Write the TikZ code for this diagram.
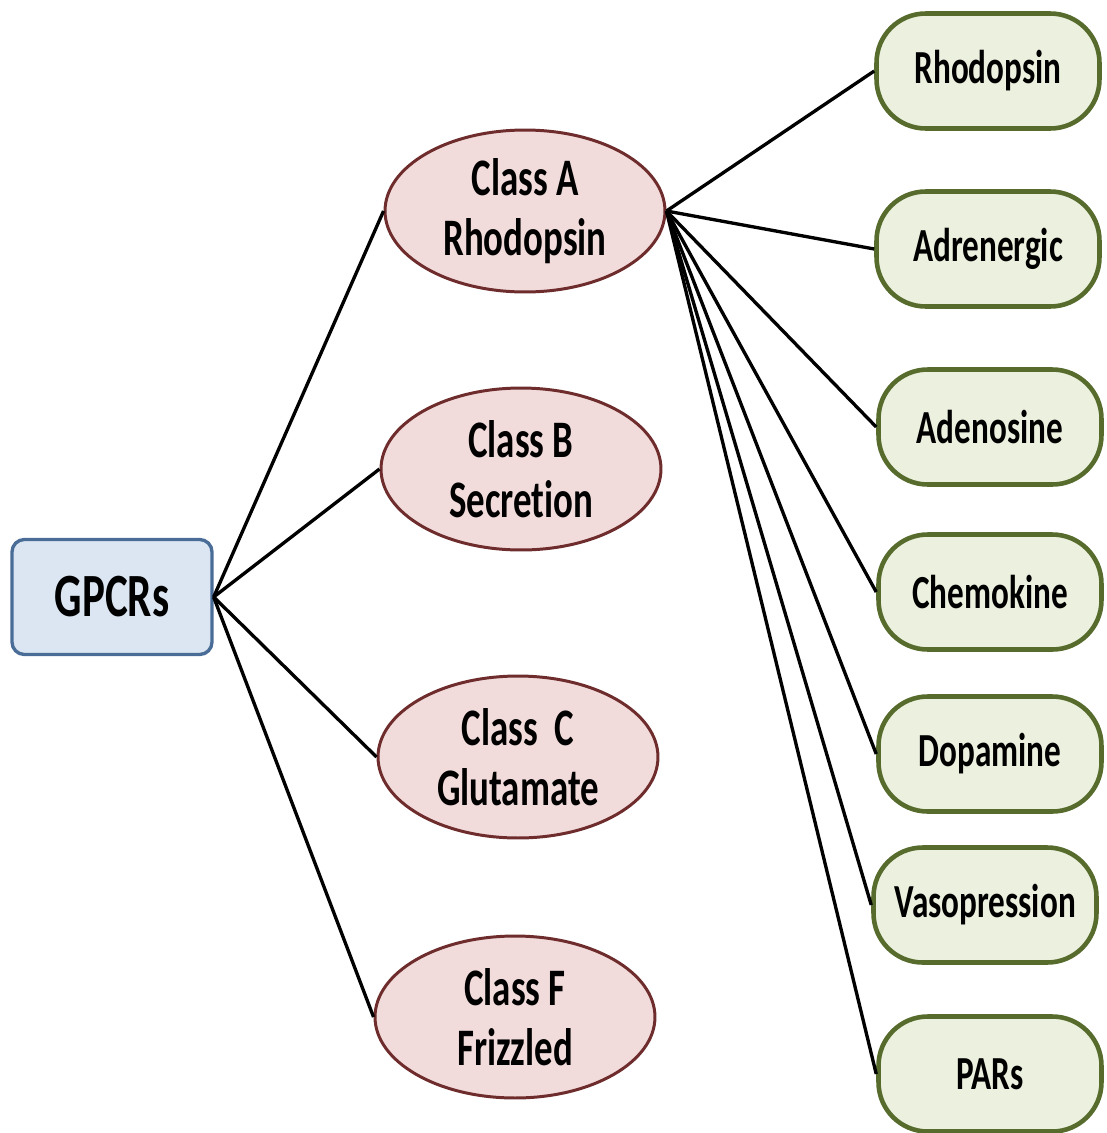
\documentclass[tikz,border=0pt]{standalone}
\usepackage{fontspec}
\setmainfont{Carlito}[FakeStretch=0.7, Ligatures={NoCommon,NoContextual,NoRare}]
\usetikzlibrary{shapes.geometric}
\usetikzlibrary{positioning}

\definecolor{racinefond}{HTML}{DCE6F2}
\definecolor{racinebord}{HTML}{4A6D98}
\definecolor{classefond}{HTML}{F2DCDB}
\definecolor{classebord}{HTML}{6E2C2C}
\definecolor{famillefond}{HTML}{EBF1DE}
\definecolor{famillebord}{HTML}{566B2C}

\tikzset{
  racine/.style={draw=racinebord, fill=racinefond, line width=1.9pt, rounded corners=7pt,
    minimum width=4cm, minimum height=2.3cm, font=\fontsize{35}{40}\selectfont\bfseries},
  classe/.style={ellipse, draw=classebord, fill=classefond, line width=1.7pt, inner sep=0pt,
    minimum width=5.6cm, minimum height=3.24cm, align=center, font=\fontsize{30}{34}\selectfont\bfseries},
  famille/.style={draw=famillebord, fill=famillefond, line width=2.6pt, rounded corners=28pt,
    minimum width=4.46cm, minimum height=2.3cm, font=\fontsize{27}{30}\selectfont\bfseries},
  lien/.style={black, line width=1.9pt}
}

\begin{document}
\begin{tikzpicture}[x=0.02cm, y=-0.02cm]
        \useasboundingbox (0,0) rectangle (1106,1133);

        % racine
        \node[racine] (gpcr) at (112,597) {GPCRs};

        % les quatre classes
        \node[classe] (clA) at (525,211) {Class A\\Rhodopsin};
        \node[classe] (clB) at (521,469) {Class B\\Secretion};
        \node[classe] (clC) at (518,757) {Class~~C\\Glutamate};
        \node[classe] (clF) at (515,1017) {Class F\\Frizzled};

        % familles de la classe A
        \node[famille] (rho) at (988,71) {Rhodopsin};
        \node[famille] (adr) at (988,249) {Adrenergic};
        \node[famille] (ade) at (990,427) {Adenosine};
        \node[famille] (che) at (990,592) {Chemokine};
        \node[famille] (dop) at (990,754) {Dopamine};
        \node[famille] (vas) at (985,905) {Vasopression};
        \node[famille] (par) at (990,1074) {PARs};

        % liaisons
        \foreach \c in {clA,clB,clC,clF}
            \draw[lien] (gpcr.east) -- (\c.west);
        \foreach \f in {rho,adr,ade,che,dop,vas,par}
            \draw[lien] (clA.east) -- (\f.west);
\end{tikzpicture}
\end{document}
